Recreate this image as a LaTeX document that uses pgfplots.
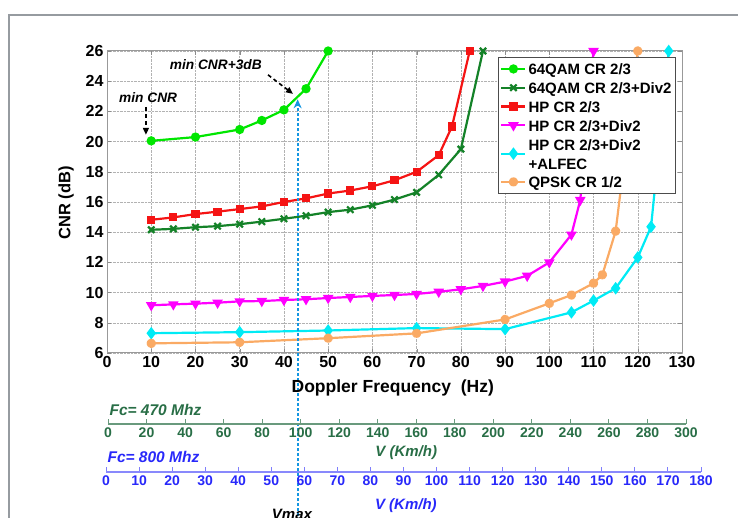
\documentclass[border=0pt]{standalone}
\usepackage{pgfplots}
\pgfplotsset{compat=1.18}
\usepackage{fontspec}
\setmainfont{Liberation Sans}
\usetikzlibrary{arrows.meta}
\definecolor{cgreen}{RGB}{0,230,0}
\definecolor{cdkgreen}{RGB}{20,130,40}
\definecolor{cred}{RGB}{245,20,20}
\definecolor{cmag}{RGB}{255,0,255}
\definecolor{ccyan}{RGB}{0,235,245}
\definecolor{corange}{RGB}{250,170,100}
\definecolor{axgreen}{RGB}{40,110,70}
\definecolor{axblue}{RGB}{40,40,250}
\definecolor{vline}{RGB}{20,150,225}
\definecolor{framegray}{RGB}{150,155,160}
\begin{document}
\begin{tikzpicture}[x=1pt,y=1pt]
\useasboundingbox (0,0) rectangle (738,518);
\draw[framegray, line width=2.5pt] (9,503) rectangle (780,-30);
\begin{axis}[
  at={(107pt,165pt)}, anchor=south west, scale only axis,
  width=575pt, height=302pt,
  xmin=0, xmax=130, ymin=6, ymax=26,
  xtick={0,10,...,130}, ytick={6,8,...,26},
  grid=major, major grid style={densely dotted, black!30},
  axis line style={black!40, line width=1pt}, tick style={black!45},
  tick align=inside, major tick length=4pt,
  ticklabel style={font=\fontsize{16}{16}\selectfont\bfseries},
  /pgf/number format/assume math mode=true,
  xlabel={Doppler Frequency\ \ (Hz)}, ylabel={CNR (dB)},
  xlabel style={font=\fontsize{17.5}{18}\selectfont\bfseries, at={(axis description cs:0.497,0)}, anchor=center, yshift=-35pt},
  ylabel style={font=\fontsize{16.5}{17}\selectfont\bfseries, at={(axis description cs:-0.071,0.497)}, anchor=center},
  clip=false,
  legend style={at={(0.9896,0.980)}, anchor=north east, draw=black!70, line width=1pt, fill=white,
    font=\fontsize{15}{19}\selectfont\bfseries, inner sep=2pt, row sep=0pt, cells={anchor=west, align=left}},
  legend cell align=left,
  legend image code/.code={\draw[mark repeat=2,mark phase=2,#1] plot coordinates {(0pt,0pt)(12pt,0pt)(24pt,0pt)};},
  every axis plot/.append style={line width=2.2pt, mark size=3.5pt},
]
\addplot[cgreen, mark=*, mark options={solid}] coordinates {(10,20.05)(20,20.3)(30,20.8)(35,21.4)(40,22.1)(45,23.5)(50,26)};
\addlegendentry{\strut 64QAM CR 2/3}
\addplot[cdkgreen, mark=x, mark size=4.5pt, mark options={solid}] coordinates {(10,14.16)(15,14.22)(20,14.33)(25,14.4)(30,14.53)(35,14.7)(40,14.89)(45,15.09)(50,15.33)(55,15.49)(60,15.78)(65,16.16)(70,16.64)(75,17.8)(80,19.5)(85,26)};
\addlegendentry{\strut 64QAM CR 2/3+Div2}
\addplot[cred, mark=square*, mark size=3pt, mark options={solid}] coordinates {(10,14.82)(15,14.98)(20,15.2)(25,15.36)(30,15.53)(35,15.71)(40,16.0)(45,16.24)(50,16.56)(55,16.76)(60,17.04)(65,17.44)(70,18.0)(75,19.1)(78,21.0)(82,26)};
\addlegendentry{\strut HP CR 2/3}
\addplot[cmag, mark=triangle*, mark size=4pt, mark options={solid, rotate=180}] coordinates {(10,9.16)(15,9.22)(20,9.27)(25,9.33)(30,9.42)(35,9.44)(40,9.51)(45,9.56)(50,9.64)(55,9.71)(60,9.78)(65,9.84)(70,9.91)(75,10.05)(80,10.22)(85,10.44)(90,10.73)(95,11.11)(100,12.0)(105,13.84)(107,16.13)(110,26)};
\addlegendentry{\strut HP CR 2/3+Div2}
\addplot[ccyan, mark=diamond*, mark size=4.5pt, mark options={solid}] coordinates {(10,7.31)(30,7.38)(50,7.49)(70,7.65)(90,7.58)(105,8.69)(110,9.47)(115,10.29)(120,12.33)(123,14.36)(127,26)};
\addlegendentry{\strut HP CR 2/3+Div2\\\strut +ALFEC}
\addplot[corange, mark=10-pointed star, mark size=4.5pt, mark options={solid}] coordinates {(10,6.64)(30,6.71)(50,6.98)(70,7.3)(90,8.22)(100,9.29)(105,9.84)(110,10.62)(112,11.18)(115,14.07)(120,26)};
\addlegendentry{\strut QPSK CR 1/2}
\node[font=\fontsize{13.7}{14}\selectfont\bfseries\itshape] at (axis cs:9.3,22.9) {min CNR};
\draw[black, line width=1.6pt, dash pattern=on 4pt off 3pt, -{Triangle[length=7pt,width=6pt]}] (axis cs:8.8,22.3) -- (axis cs:8.8,20.45);
\node[font=\fontsize{13.7}{14}\selectfont\bfseries\itshape] at (axis cs:24.6,25.08) {min CNR+3dB};
\draw[black, line width=1.6pt, dash pattern=on 4pt off 3pt, -{Triangle[length=7pt,width=6pt]}] (axis cs:36.4,24.42) -- (axis cs:42.05,23.16);
\draw[vline, line width=2pt, dash pattern=on 3pt off 2pt, -{Stealth[length=9pt,width=8pt]}] (axis cs:43.1,-5.8) -- (axis cs:43.1,22.8);
\end{axis}
% lower axis: Fc = 470 MHz
\begin{axis}[
  at={(108pt,94pt)}, anchor=south west, scale only axis,
  width=578pt, height=10pt,
  xmin=0, xmax=300, ymin=0, ymax=1,
  axis y line=none, axis x line*=bottom,
  xtick={0,20,...,300}, tick align=inside, major tick length=5pt,
  x axis line style={-, axgreen!70, line width=1.2pt},
  tick style={axgreen!70, line width=1pt},
  xticklabel style={font=\fontsize{14}{14}\selectfont\bfseries, text=axgreen},
  /pgf/number format/assume math mode=true,
  xlabel={\itshape V (Km/h)},
  xlabel style={font=\fontsize{15}{15}\selectfont\bfseries, text=axgreen, at={(axis description cs:0.516,0)}, anchor=center, yshift=-29pt},
]
\end{axis}
% lower axis: Fc = 800 MHz
\begin{axis}[
  at={(106pt,46pt)}, anchor=south west, scale only axis,
  width=595pt, height=10pt,
  xmin=0, xmax=180, ymin=0, ymax=1,
  axis y line=none, axis x line*=bottom,
  xtick={0,10,...,180}, tick align=inside, major tick length=5pt,
  x axis line style={-, axblue!55, line width=2pt},
  tick style={axblue!60, line width=1pt},
  xticklabel style={font=\fontsize{14}{14}\selectfont\bfseries, text=axblue},
  /pgf/number format/assume math mode=true,
  xlabel={\itshape V (Km/h)},
  xlabel style={font=\fontsize{15}{15}\selectfont\bfseries, text=axblue, at={(axis description cs:0.504,0)}, anchor=center, yshift=-34pt},
]
\end{axis}
\node[anchor=west, font=\fontsize{15.5}{16}\selectfont\bfseries\itshape, text=axgreen] at (106,108) {Fc= 470 Mhz};
\node[anchor=west, font=\fontsize{15.5}{16}\selectfont\bfseries\itshape, text=axblue] at (104,61) {Fc= 800 Mhz};
\node[font=\fontsize{15}{15}\selectfont\bfseries\itshape] at (292,4) {Vmax};
\end{tikzpicture}
\end{document}
